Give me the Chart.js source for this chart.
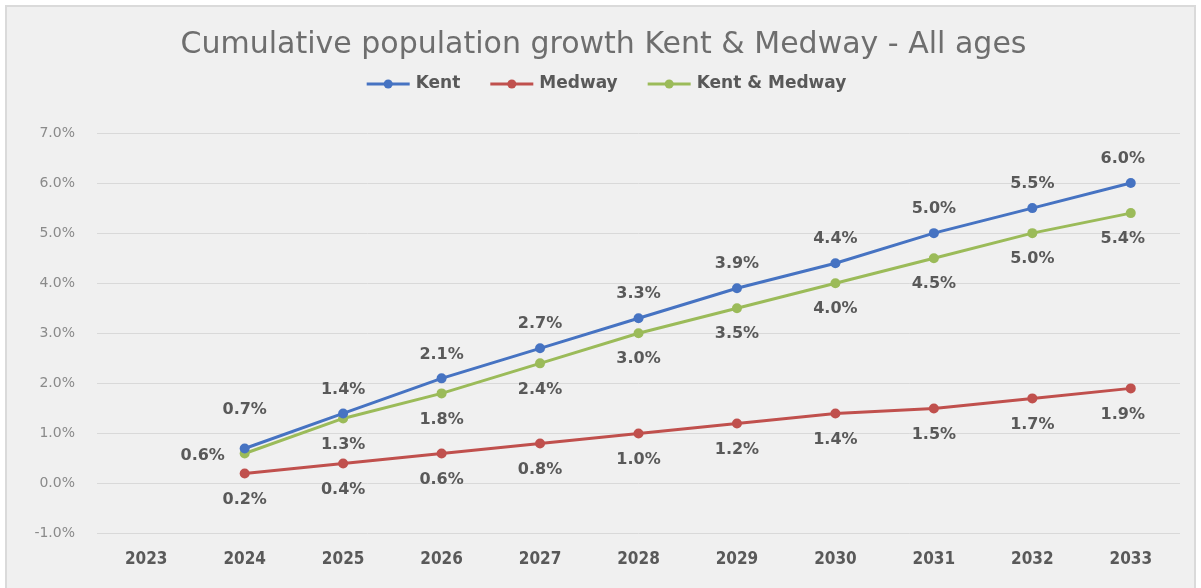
<!DOCTYPE html>
<html>
<head>
<meta charset="utf-8">
<script src="https://cdn.jsdelivr.net/npm/chart.js@4.4.0/dist/chart.umd.min.js"></script>
<style>
    html, body { margin: 0; padding: 0; background: #ffffff; overflow: hidden; }
    #frame {
        position: absolute; left: 5px; top: 5px;
        width: 1187px; height: 583px;
        background: #f0f0f0;
        border: 2px solid #dadada; border-bottom: none;
    }
</style>
</head>
<body>
<div id="frame"><canvas id="growthChart"></canvas></div>
<script>
// data
let years = ["2023", "2024", "2025", "2026", "2027", "2028", "2029", "2030", "2031", "2032", "2033"];
let kent = [null, 0.7, 1.4, 2.1, 2.7, 3.3, 3.9, 4.4, 5.0, 5.5, 6.0];
let medway = [null, 0.2, 0.4, 0.6, 0.8, 1.0, 1.2, 1.4, 1.5, 1.7, 1.9];
let kentMedway = [null, 0.6, 1.3, 1.8, 2.4, 3.0, 3.5, 4.0, 4.5, 5.0, 5.4];
let yTicks = [-1, 0, 1, 2, 3, 4, 5, 6, 7];

const chartTitle = "Cumulative population growth Kent & Medway - All ages";
const textGrey = "#595959";

// draws the value labels next to each point
const valueLabels = {
    id: "valueLabels",
    afterDatasetsDraw(chart) {
        let ctx = chart.ctx;
        ctx.save();
        ctx.font = "bold 16px 'DejaVu Sans'";
        ctx.fillStyle = textGrey;
        ctx.textAlign = "center";
        ctx.textBaseline = "middle";
        chart.data.datasets.forEach((ds, i) => {
            let meta = chart.getDatasetMeta(i);
            meta.data.forEach((pt, j) => {
                let v = ds.data[j];
                if (v === null) return;
                let x = pt.x, y = pt.y;
                let side = ds.labelSide;
                if (ds.firstLabel && j === 1) side = ds.firstLabel;
                if (side === "above") y -= 24;
                else if (side === "above-far") y -= 39;
                else if (side === "left") { x -= 42; y += 2; }
                else y += 26;
                if (j === ds.data.length - 1) x -= 8;
                ctx.fillText(v.toFixed(1) + "%", x, y);
            });
        });
        ctx.restore();
    }
};

// title + legend with a line + dot marker, like the office style
const header = {
    id: "header",
    afterDraw(chart) {
        let ctx = chart.ctx;
        ctx.save();
        ctx.textBaseline = "middle";

        ctx.font = "30px 'DejaVu Sans'";
        ctx.fillStyle = "#6e6e6e";
        ctx.textAlign = "center";
        ctx.fillText(chartTitle, chart.width / 2 + 3, 38);

        ctx.font = "bold 17px 'DejaVu Sans'";
        ctx.textAlign = "left";
        let lineLen = 43, gap = 6, itemGap = 30;
        let items = chart.data.datasets.map(ds => ({
            label: ds.label, color: ds.borderColor, w: ctx.measureText(ds.label).width
        }));
        let total = items.reduce((s, it) => s + lineLen + gap + it.w, 0) + itemGap * (items.length - 1);
        let x = chart.width / 2 + 6 - total / 2;
        let y = 77;
        items.forEach(it => {
            ctx.strokeStyle = it.color;
            ctx.lineWidth = 3;
            ctx.beginPath();
            ctx.moveTo(x, y);
            ctx.lineTo(x + lineLen, y);
            ctx.stroke();
            ctx.fillStyle = it.color;
            ctx.beginPath();
            ctx.arc(x + lineLen / 2, y, 4.5, 0, Math.PI * 2);
            ctx.fill();
            ctx.fillStyle = textGrey;
            ctx.fillText(it.label, x + lineLen + gap, y);
            x += lineLen + gap + it.w + itemGap;
        });
        ctx.restore();
    }
};

function makeSet(label, data, color, side, first) {
    return {
        label: label,
        data: data,
        borderColor: color,
        backgroundColor: color,
        borderWidth: 3,
        pointRadius: 5,
        pointHoverRadius: 5,
        pointBorderWidth: 0,
        spanGaps: false,
        labelSide: side,
        firstLabel: first
    };
}

let ctx = document.getElementById("growthChart").getContext("2d");
let myChart = new Chart(ctx, {
    type: "line",
    data: {
        labels: years,
        datasets: [
            makeSet("Kent", kent, "#4673c2", "above", "above-far"),
            makeSet("Medway", medway, "#c0504d", "below"),
            makeSet("Kent & Medway", kentMedway, "#9bbb59", "below", "left")
        ]
    },
    options: {
        responsive: true,
        maintainAspectRatio: false,
        animation: false,
        events: [],
        layout: { padding: { left: 0, right: 14, top: 126, bottom: 4 } },
        plugins: {
            legend: { display: false },
            tooltip: { enabled: false },
            title: { display: false }
        },
        scales: {
            x: {
                offset: true,
                grid: { display: false, drawTicks: false },
                border: { display: false },
                ticks: {
                    color: textGrey,
                    padding: 16,
                    font: { family: "'Liberation Sans Narrow', 'DejaVu Sans Condensed'", size: 17, weight: "bold" }
                }
            },
            y: {
                min: yTicks[0],
                max: yTicks[yTicks.length - 1],
                afterBuildTicks: scale => { scale.ticks = yTicks.map(v => ({ value: v })); },
                afterFit: scale => { scale.width = 90; },
                grid: { color: "#d9d9d9", lineWidth: 1, drawTicks: false },
                border: { display: false },
                ticks: {
                    color: "#8a8a8a",
                    padding: 22,
                    font: { family: "'DejaVu Sans'", size: 14 },
                    callback: v => v.toFixed(1) + "%"
                }
            }
        }
    },
    plugins: [valueLabels, header]
});
</script>
</body>
</html>
